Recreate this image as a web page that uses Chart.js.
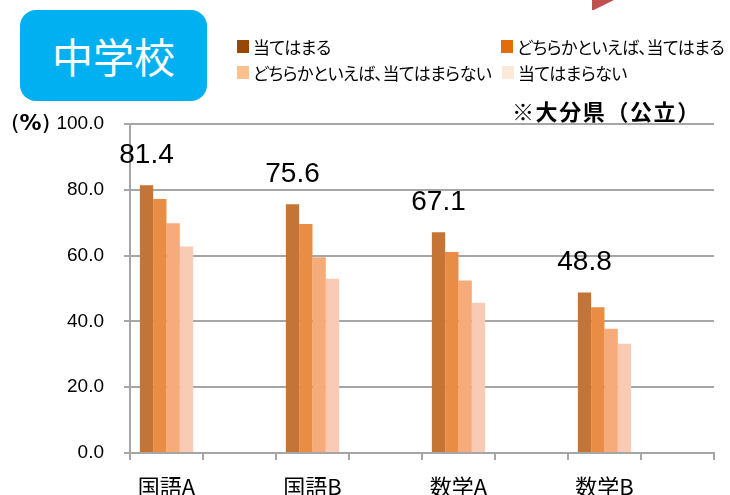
<!DOCTYPE html>
<html>
<head>
<meta charset="utf-8">
<script src="https://cdn.jsdelivr.net/npm/chart.js@4"></script>
<style>
  body { margin: 0; background: #fff; }
  #wrap { position: relative; width: 730px; height: 495px; overflow: hidden; font-family: "Noto Sans CJK JP", sans-serif; }
  canvas { position: absolute; left: 0; top: 0; }
  .title { position: absolute; left: 20px; top: 10px; width: 187px; height: 91px; background: #00B0F0; border-radius: 16px;
           color: #fff; font-size: 41px; line-height: 91px; text-align: center; }
  .tri { position: absolute; left: 592px; top: 0; width: 22px; height: 10px; background: #C0504D;
         clip-path: polygon(0 0, 100% 0, 8% 100%, 0 100%); }
  .lg { position: absolute; font-size: 17px; line-height: 20px; color: #000; white-space: nowrap; font-feature-settings: "palt"; letter-spacing: -0.5px; }
  .lg i { position: absolute; left: -16px; top: 3px; width: 12px; height: 13px; }
  .unit { position: absolute; left: 11px; top: 109px; font-family: "DejaVu Sans", sans-serif; font-size: 22px; line-height: 28px; }
  .unit b { font-weight: bold; }
  .note { position: absolute; left: 512px; top: 95px; font-size: 22px; line-height: 30px; font-weight: bold; letter-spacing: 1.6px; }
</style>
</head>
<body>
<div id="wrap">
  <canvas id="c" width="730" height="495"></canvas>
  <div class="title">中学校</div>
  <div class="tri"></div>
  <div class="lg" style="left:253px; top:37px;"><i style="background:#974706"></i>当てはまる</div>
  <div class="lg" style="left:517px; top:37px;"><i style="background:#E46C0A"></i>どちらかといえば、当てはまる</div>
  <div class="lg" style="left:253px; top:63px;"><i style="background:#FAC090"></i>どちらかといえば、当てはまらない</div>
  <div class="lg" style="left:518px; top:63px;"><i style="background:#FDE9D9"></i>当てはまらない</div>
  <div class="unit">(<b>%</b>)</div>
  <div class="note">※大分県（公立）</div>
</div>
<script>
// subjects and the four answer groups (%)
const subjects = ["国語A", "国語B", "数学A", "数学B"];
const atehamaru = [81.4, 75.6, 67.1, 48.8];
const dochiraAtehamaru = [77.2, 69.6, 61.1, 44.3];
const dochiraAtehamaranai = [69.8, 59.5, 52.4, 37.8];
const atehamaranai = [62.8, 53.0, 45.7, 33.2];
const yTicks = [0, 20, 40, 60, 80, 100];

// every subject is followed by an empty slot
const spread = arr => arr.flatMap(v => [v, null]);
const labels = subjects.flatMap(s => [s, ""]);

const gridGray = "#A6A6A6";

const valueLabels = {
  id: "valueLabels",
  afterDatasetsDraw(chart) {
    const ctx = chart.ctx;
    const meta = chart.getDatasetMeta(0);
    ctx.save();
    ctx.font = "28px 'Liberation Sans'";
    ctx.fillStyle = "#000";
    ctx.textAlign = "center";
    ctx.textBaseline = "middle";
    meta.data.forEach((bar, i) => {
      const v = chart.data.datasets[0].data[i];
      if (v == null) return;
      ctx.fillText(v.toFixed(1), bar.x, bar.y - 30);
    });
    ctx.restore();
  }
};

new Chart(document.getElementById("c"), {
  type: "bar",
  data: {
    labels: labels,
    datasets: [
      { label: "当てはまる", data: spread(atehamaru), backgroundColor: "#C47535" },
      { label: "どちらかといえば、当てはまる", data: spread(dochiraAtehamaru), backgroundColor: "#E98D45" },
      { label: "どちらかといえば、当てはまらない", data: spread(dochiraAtehamaranai), backgroundColor: "#F7AB7B" },
      { label: "当てはまらない", data: spread(atehamaranai), backgroundColor: "#F9CBB5" },
    ],
  },
  options: {
    responsive: false,
    animation: false,
    categoryPercentage: 0.73,
    barPercentage: 1,
    layout: { padding: { top: 124, right: 16, left: 0, bottom: 0 } },
    plugins: { legend: { display: false }, tooltip: { enabled: false } },
    scales: {
      x: {
        afterFit: s => { s.height = 42; },
        grid: { drawOnChartArea: false, color: gridGray, lineWidth: 2, tickLength: 7 },
        border: { color: gridGray, width: 2 },
        ticks: { color: "#000", padding: 13, maxRotation: 0, autoSkip: false,
                 font: { family: "'Noto Sans CJK JP'", size: 22 } },
      },
      y: {
        min: 0, max: 100,
        afterFit: s => { s.width = 130; },
        afterBuildTicks: s => { s.ticks = yTicks.map(v => ({ value: v })); },
        grid: { color: gridGray, lineWidth: 2, tickLength: 6 },
        border: { color: gridGray, width: 2 },
        ticks: { color: "#000", padding: 20, callback: v => v.toFixed(1),
                 font: { family: "'Liberation Sans'", size: 19 } },
      },
    },
  },
  plugins: [valueLabels],
});
</script>
</body>
</html>
